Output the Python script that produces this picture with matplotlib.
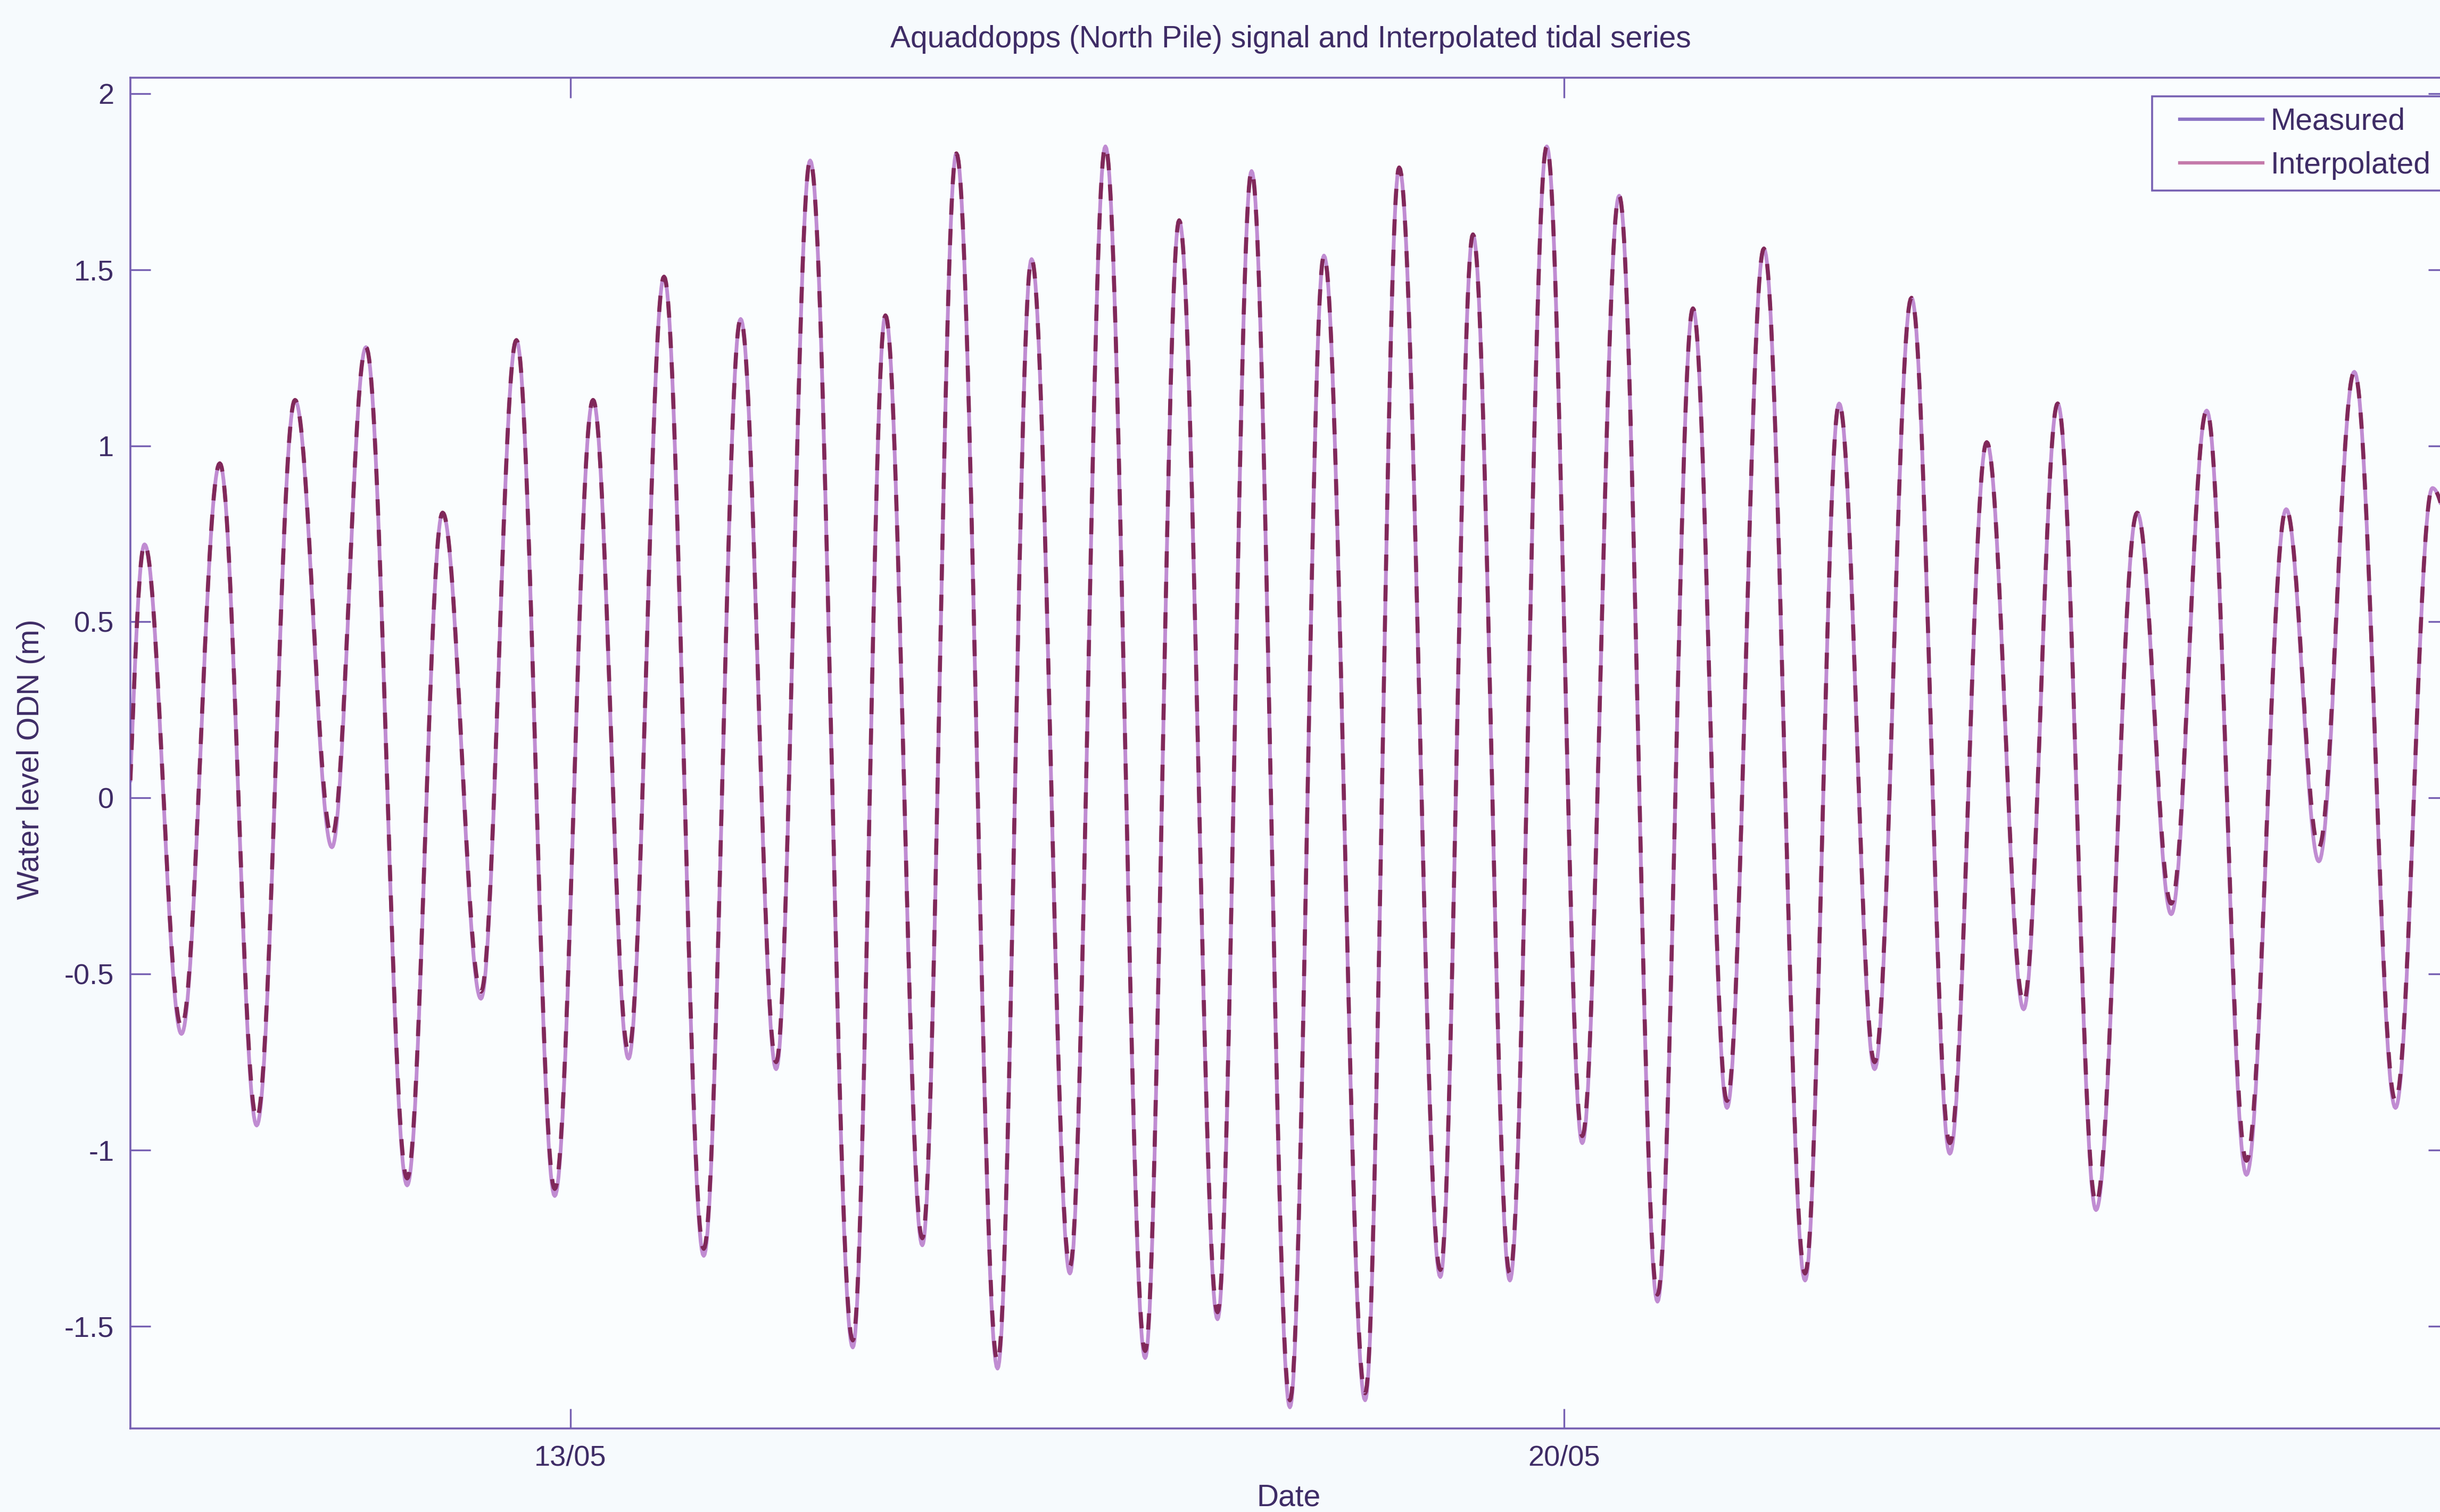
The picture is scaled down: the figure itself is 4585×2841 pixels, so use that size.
import numpy as np
import matplotlib
matplotlib.use("Agg")
import matplotlib.pyplot as plt
from matplotlib.lines import Line2D
from matplotlib.legend_handler import HandlerLine2D

# ---------------- data (days of May, water level m ODN) ----------------
title = "Aquaddopps (North Pile) signal and Interpolated tidal series"
xlabel = "Date"
ylabel = "Water level ODN (m)"
series_names = ["Measured", "Interpolated"]

xtick_pos = [13, 20]
xtick_labels = ["13/05", "20/05"]
ytick_pos = [-1.5, -1, -0.5, 0, 0.5, 1, 1.5, 2]
ytick_labels = ["-1.5", "-1", "-0.5", "0", "0.5", "1", "1.5", "2"]

t_start, h_start = 9.90, 0.05
t_end, h_end = 26.23, 0.75

t_high = [10.00, 10.53, 11.06, 11.56, 12.10, 12.62, 13.16, 13.66, 14.20, 14.69,
          15.22, 15.72, 16.25, 16.77, 17.29, 17.80, 18.31, 18.84, 19.36, 19.88,
          20.39, 20.91, 21.41, 21.94, 22.45, 22.98, 23.48, 24.04, 24.53, 25.09,
          25.57, 26.12]
h_high = [0.72, 0.95, 1.13, 1.28, 0.81, 1.30, 1.13, 1.48, 1.36, 1.81,
          1.37, 1.83, 1.53, 1.85, 1.64, 1.78, 1.54, 1.79, 1.60, 1.85,
          1.71, 1.39, 1.56, 1.12, 1.42, 1.01, 1.12, 0.81, 1.10, 0.82,
          1.21, 0.88]

t_low = [10.26, 10.79, 11.32, 11.85, 12.37, 12.89, 13.41, 13.94, 14.45, 14.99,
         15.48, 16.01, 16.52, 17.05, 17.56, 18.07, 18.60, 19.13, 19.62, 20.13,
         20.66, 21.15, 21.70, 22.19, 22.72, 23.24, 23.75, 24.28, 24.81, 25.32,
         25.86]
h_low_measured = [-0.67, -0.93, -0.14, -1.10, -0.57, -1.13, -0.74, -1.30, -0.77, -1.56,
                  -1.27, -1.62, -1.35, -1.59, -1.48, -1.73, -1.71, -1.36, -1.37, -0.98,
                  -1.43, -0.88, -1.37, -0.77, -1.01, -0.60, -1.17, -0.33, -1.07, -0.18,
                  -0.88]
h_low_interp = [-0.65, -0.91, -0.11, -1.08, -0.55, -1.11, -0.72, -1.28, -0.75, -1.54,
                -1.25, -1.60, -1.33, -1.57, -1.46, -1.71, -1.69, -1.34, -1.35, -0.96,
                -1.41, -0.86, -1.35, -0.75, -0.98, -0.58, -1.15, -0.30, -1.03, -0.14,
                -0.86]


def tidal_curve(th, hh, tl, hl, n=40):
    t_ext = np.concatenate([th, tl])
    h_ext = np.concatenate([hh, hl])
    order = np.argsort(t_ext)
    t_ext, h_ext = t_ext[order], h_ext[order]
    ts, hs = [], []
    s = np.linspace(0, 1, n)
    ts.append(t_start + (t_ext[0] - t_start) * s)
    hs.append(h_start + (h_ext[0] - h_start) * np.sin(0.5 * np.pi * s))
    for i in range(len(t_ext) - 1):
        s = np.linspace(0, 1, n)[1:]
        ts.append(t_ext[i] + (t_ext[i + 1] - t_ext[i]) * s)
        hs.append(h_ext[i] + (h_ext[i + 1] - h_ext[i]) * (1 - np.cos(np.pi * s)) / 2)
    s = np.linspace(0, 1, n)[1:]
    ts.append(t_ext[-1] + (t_end - t_ext[-1]) * s)
    hs.append(h_ext[-1] + (h_end - h_ext[-1]) * (1 - np.cos(0.5 * np.pi * s)))
    return np.concatenate(ts), np.concatenate(hs)


tm, hm = tidal_curve(t_high, h_high, t_low, h_low_measured)
ti, hi = tidal_curve(t_high, h_high, t_low, h_low_interp)

# ---------------- style ----------------
W, H = 4585, 2841
DPI = 100
bg = "#f6fafd"
spine_c = "#7660b2"
text_c = "#3e2c66"
meas_c = "#c08cd2"
interp_c = "#80285a"
FS = 41

plt.rcParams["font.family"] = ["Liberation Sans", "DejaVu Sans"]

fig = plt.figure(figsize=(W / DPI, H / DPI), dpi=DPI, facecolor=bg)
ax_left, ax_right = 245 / W, 4600 / W
ax_bottom, ax_top = 1 - 2684 / H, 1 - 146 / H
ax = fig.add_axes([ax_left, ax_bottom, ax_right - ax_left, ax_top - ax_bottom])
ax.set_facecolor("#fafdfe")

ax.plot(tm, hm, color=meas_c, lw=5.0, solid_joinstyle="round", zorder=2)
ax.plot(ti, hi, color=interp_c, lw=5.5, ls=(0, (4, 3.5)), zorder=3)

ax.set_xlim(t_start, t_end)
ax.set_ylim(-1.79, 2.045)
ax.set_xticks(xtick_pos)
ax.set_xticklabels(xtick_labels)
ax.set_yticks(ytick_pos)
ax.set_yticklabels(ytick_labels)

for sp in ax.spines.values():
    sp.set_color(spine_c)
    sp.set_linewidth(2.6)
ax.tick_params(axis="both", direction="in", length=27, width=2.4, color=spine_c,
               labelcolor=text_c, labelsize=FS - 2, top=True, right=True, pad=22)

fig.text((ax_left + ax_right) / 2 + 3 / W, 1 - 74 / H, title, ha="center", va="center",
         fontsize=FS, color=text_c)
fig.text(2421 / W, 1 - 2815 / H, xlabel, ha="center", va="center", fontsize=FS, color=text_c)
fig.text(58 / W, 1 - 1427 / H, ylabel, ha="center", va="center", rotation=90,
         fontsize=FS, color=text_c)


class OffsetLineHandler(HandlerLine2D):
    """Legend line that starts a little to the right of the handle box."""
    def get_xdata(self, legend, xdescent, ydescent, width, height, fontsize):
        xdata = [-xdescent + 0.17 * width, -xdescent + width]
        return xdata, [-xdescent + 0.5 * width]


h_meas = Line2D([], [], color="#8a72c4", lw=4.5)
h_int = Line2D([], [], color="#c47aaa", lw=4.5)
leg = ax.legend([h_meas, h_int], series_names, loc="upper left",
                bbox_to_anchor=(4044 / W, 1 - 181 / H), bbox_transform=fig.transFigure,
                borderaxespad=0, fontsize=FS, frameon=True, fancybox=False,
                edgecolor=spine_c, facecolor="#fafdfe", framealpha=1,
                handlelength=3.3, handletextpad=0.25, borderpad=0.36, labelspacing=0.5,
                labelcolor=text_c,
                handler_map={Line2D: OffsetLineHandler()})
leg.get_frame().set_linewidth(2.6)

fig.savefig("out.png", dpi=DPI, facecolor=bg)
